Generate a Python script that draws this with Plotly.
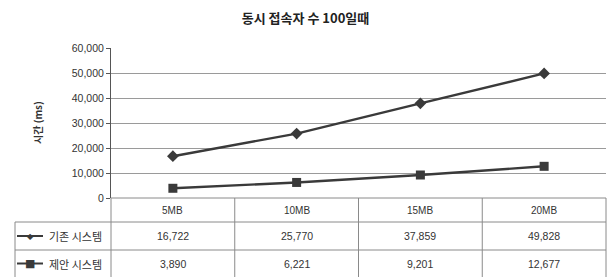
import plotly.graph_objects as go

categories = ["5MB", "10MB", "15MB", "20MB"]
series_names = ["기존 시스템", "제안 시스템"]
existing = [16722, 25770, 37859, 49828]
proposed = [3890, 6221, 9201, 12677]
y_ticks = [0, 10000, 20000, 30000, 40000, 50000, 60000]

W, H = 611, 277
L, R, T, B = 111, 5, 48, 79
pw, ph = W - L - R, H - T - B

def px_x(p):  # pixel -> paper x
    return (p - L) / pw

def px_y(p):  # pixel -> paper y
    return (H - B - p) / ph

LINE = "#3a3a3a"
GRID = "#9a9a9a"
KFONT = "Noto Sans CJK KR"
NFONT = "Liberation Sans"

fig = go.Figure()
fig.add_trace(go.Scatter(x=categories, y=existing, mode="lines+markers", name=series_names[0],
                         line=dict(color=LINE, width=2.4),
                         marker=dict(symbol="diamond", size=9, color=LINE)))
fig.add_trace(go.Scatter(x=categories, y=proposed, mode="lines+markers", name=series_names[1],
                         line=dict(color=LINE, width=2.4),
                         marker=dict(symbol="square", size=9, color=LINE)))

shapes = []
ann = []
tcol = "#8a8a8a"
row_y = [px_y(198), px_y(222), px_y(250), px_y(277)]
left = px_x(15)
for yy in row_y[1:3]:
    shapes.append(dict(type="line", xref="paper", yref="paper", x0=left, x1=1, y0=yy, y1=yy,
                       line=dict(color=tcol, width=1)))
shapes.append(dict(type="line", xref="paper", yref="paper", x0=0, x1=1, y0=0, y1=0,
                   line=dict(color=tcol, width=1)))
for i in range(len(categories) + 1):
    xx = i / len(categories)
    shapes.append(dict(type="line", xref="paper", yref="paper", x0=xx, x1=xx, y0=0, y1=row_y[3],
                       line=dict(color=tcol, width=1)))
shapes.append(dict(type="line", xref="paper", yref="paper", x0=left, x1=left, y0=row_y[1], y1=row_y[3],
                   line=dict(color=tcol, width=1)))

C = dict(xanchor="center", yanchor="middle", showarrow=False)
for c in categories:
    ann.append(dict(x=c, xref="x", y=(row_y[0] + row_y[1]) / 2, yref="paper", text=c, **C,
                    font=dict(family=NFONT, size=10, color="#333")))
for r, vals in enumerate([existing, proposed]):
    yc = (row_y[r + 1] + row_y[r + 2]) / 2
    for c, v in zip(categories, vals):
        ann.append(dict(x=c, xref="x", y=yc, yref="paper", text=f"{v:,}", **C,
                        font=dict(family=NFONT, size=10.5, color="#333")))
    shapes.append(dict(type="line", xref="paper", yref="paper", x0=px_x(17), x1=px_x(43), y0=yc, y1=yc,
                       line=dict(color=LINE, width=2)))
    ann.append(dict(x=px_x(30), xref="paper", y=yc, yref="paper", text="◆" if r == 0 else "■", **C,
                    font=dict(family="DejaVu Sans", size=8 if r == 0 else 11, color=LINE)))
    ann.append(dict(x=px_x(47), xref="paper", y=yc, yref="paper", text=series_names[r], showarrow=False,
                    xanchor="left", yanchor="middle", font=dict(family=KFONT, size=11, color="#333")))

ann.append(dict(x=px_x(37), xref="paper", y=0.5, yref="paper", text="<b>시간</b> <b>(ms)</b>", textangle=-90,
                **C, font=dict(family=KFONT, size=10, color="#333")))

fig.update_layout(
    width=W, height=H, margin=dict(l=L, r=R, t=T, b=B),
    paper_bgcolor="white", plot_bgcolor="white", showlegend=False,
    title=dict(text="<b>동시 접속자 수 100일때</b>", x=0.5, xanchor="center", y=1 - 18 / H, yanchor="middle",
               font=dict(family=KFONT, size=13, color="#222")),
    xaxis=dict(type="category", range=[-0.5, 3.5], showticklabels=False, showgrid=False,
               zeroline=False, showline=False, ticks=""),
    yaxis=dict(range=[0, 60000], tickvals=y_ticks, tickformat=",", showgrid=True, gridcolor=GRID,
               gridwidth=1, zeroline=False, showline=True, linecolor="#555", linewidth=1,
               ticks="outside", ticklen=4, tickcolor="#555",
               tickfont=dict(family=NFONT, size=10.5, color="#333")),
    shapes=shapes, annotations=ann,
)
fig.write_html("out.html", config={"displayModeBar": False},
               post_script="document.body.style.margin='0px';")
